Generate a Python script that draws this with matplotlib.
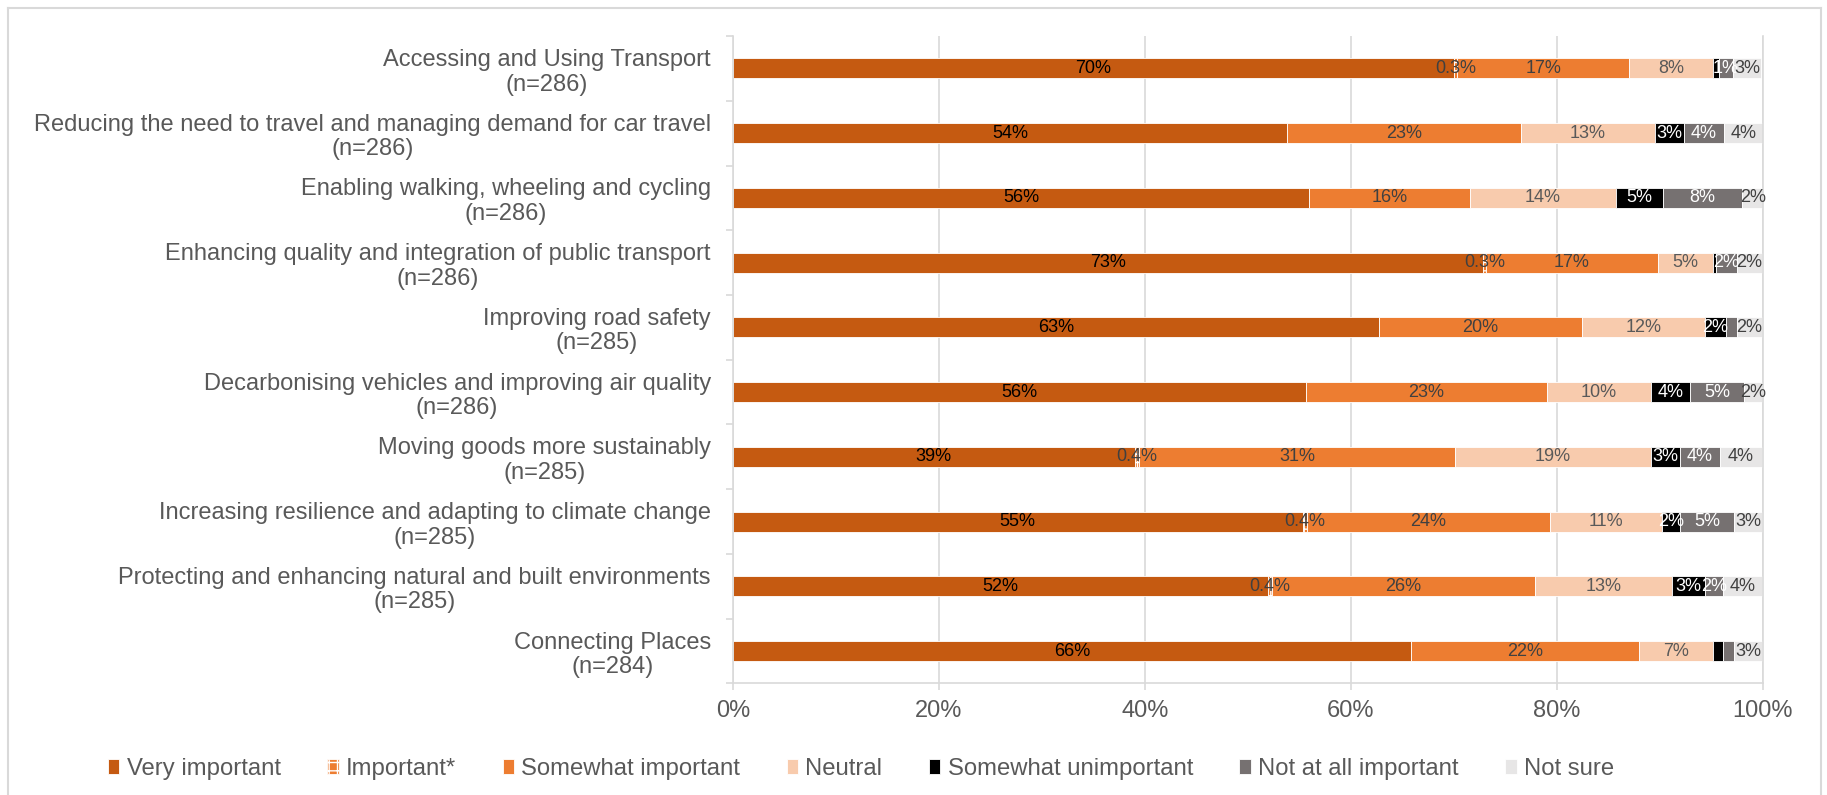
import matplotlib
matplotlib.use("Agg")
import matplotlib.pyplot as plt
from matplotlib.lines import Line2D
import numpy as np

plt.rcParams['font.family'] = ['Liberation Sans', 'DejaVu Sans']
plt.rcParams['hatch.linewidth'] = 1.0

categories = [
    "Accessing and Using Transport\n(n=286)",
    "Reducing the need to travel and managing demand for car travel\n(n=286)",
    "Enabling walking, wheeling and cycling\n(n=286)",
    "Enhancing quality and integration of public transport\n(n=286)",
    "Improving road safety\n(n=285)",
    "Decarbonising vehicles and improving air quality\n(n=286)",
    "Moving goods more sustainably\n(n=285)",
    "Increasing resilience and adapting to climate change\n(n=285)",
    "Protecting and enhancing natural and built environments\n(n=285)",
    "Connecting Places\n(n=284)",
]

very_important = [70.0, 53.8, 55.9, 72.8, 62.7, 55.6, 39.0, 55.3, 51.9, 65.8]
important = [0.3, 0, 0, 0.3, 0, 0, 0.4, 0.4, 0.4, 0]
somewhat_important = [16.7, 22.7, 15.7, 16.7, 19.7, 23.4, 30.7, 23.6, 25.6, 22.2]
neutral = [8.1, 13.0, 14.1, 5.3, 12.0, 10.1, 19.0, 10.9, 13.3, 7.1]
somewhat_unimportant = [0.6, 2.8, 4.6, 0.3, 2.0, 3.8, 2.8, 1.7, 3.2, 1.0]
not_at_all_important = [1.4, 3.9, 7.7, 2.1, 1.1, 5.3, 3.9, 5.3, 1.7, 1.1]
not_sure = [2.7, 3.8, 2.0, 2.4, 2.4, 1.7, 4.1, 2.7, 3.8, 2.7]

series_names = ["Very important", "Important*", "Somewhat important", "Neutral",
                "Somewhat unimportant", "Not at all important", "Not sure"]
series_values = [very_important, important, somewhat_important, neutral,
                 somewhat_unimportant, not_at_all_important, not_sure]
fill_colors = ["#C55A11", "#ED7D31", "#ED7D31", "#F8CBAD", "#000000", "#767171", "#E7E6E6"]
text_colors = ["#000000", "#404040", "#404040", "#595959", "#FFFFFF", "#FFFFFF", "#404040"]
hatches = [None, "++", None, None, None, None, None]

W, H = 1827, 795
fig = plt.figure(figsize=(W / 100, H / 100), dpi=100)
ax = fig.add_axes([733 / W, 1 - 683.4 / H, 1030 / W, (683.4 - 36.1) / H])

n = len(categories)
y = np.arange(n)
left = np.zeros(n)
handles = []
labels_to_draw = []
for i, (name, vals) in enumerate(zip(series_names, series_values)):
    vals = np.array(vals, dtype=float)
    bars = ax.barh(y, vals, left=left, height=0.31, color=fill_colors[i],
                   edgecolor="white", linewidth=0.6, hatch=hatches[i],
                   label=name, zorder=2)
    handles.append(bars)
    for j, v in enumerate(vals):
        if i == 1:
            show = v > 0
            txt = f"{v:.1f}%"
        else:
            show = v >= 1.2
            txt = f"{v:.0f}%"
        if show:
            labels_to_draw.append((left[j] + v / 2, y[j], txt, text_colors[i]))
    left += vals

for xc, yc, txt, col in labels_to_draw:
    ax.text(xc, yc, txt, ha="center", va="center", fontsize=13, color=col, zorder=5)

grid_col = "#D9D9D9"
ax.set_xlim(0, 100)
ax.set_ylim(n - 0.5, -0.5)
ax.set_xticks(np.arange(0, 101, 20))
ax.set_xticklabels([f"{t}%" for t in range(0, 101, 20)])
ax.set_yticks(y)
ax.set_yticklabels(categories, multialignment="center", linespacing=1.15)
ax.set_yticks(np.arange(-0.5, n, 1), minor=True)

ax.xaxis.grid(True, color=grid_col, linewidth=1.2, zorder=0)
ax.set_axisbelow(True)
ax.spines["top"].set_visible(False)
for side in ["left", "bottom", "right"]:
    ax.spines[side].set_color(grid_col)
    ax.spines[side].set_linewidth(1.2)

ax.tick_params(axis="x", length=5, width=1.2, color=grid_col, labelsize=17,
               labelcolor="#595959", pad=7)
ax.tick_params(axis="y", which="major", length=0, labelsize=17,
               labelcolor="#595959", pad=16)
ax.tick_params(axis="y", which="minor", length=5, width=1.2, color=grid_col)

fig.legend(handles, series_names, ncol=7, loc="center",
           bbox_to_anchor=(861 / W, 1 - 769 / H), frameon=False, fontsize=17.2,
           handlelength=0.48, handleheight=0.55, handletextpad=0.3,
           columnspacing=1.95, labelcolor="#595959")

# outer chart frame (left, top, right)
frame_kw = dict(transform=fig.transFigure, color=grid_col, linewidth=1.5)
fig.add_artist(Line2D([8 / W, 8 / W], [0, 1 - 8 / H], **frame_kw))
fig.add_artist(Line2D([8 / W, 1821 / W], [1 - 8 / H, 1 - 8 / H], **frame_kw))
fig.add_artist(Line2D([1821 / W, 1821 / W], [0, 1 - 8 / H], **frame_kw))

fig.savefig("out.png", dpi=100, facecolor="white")
